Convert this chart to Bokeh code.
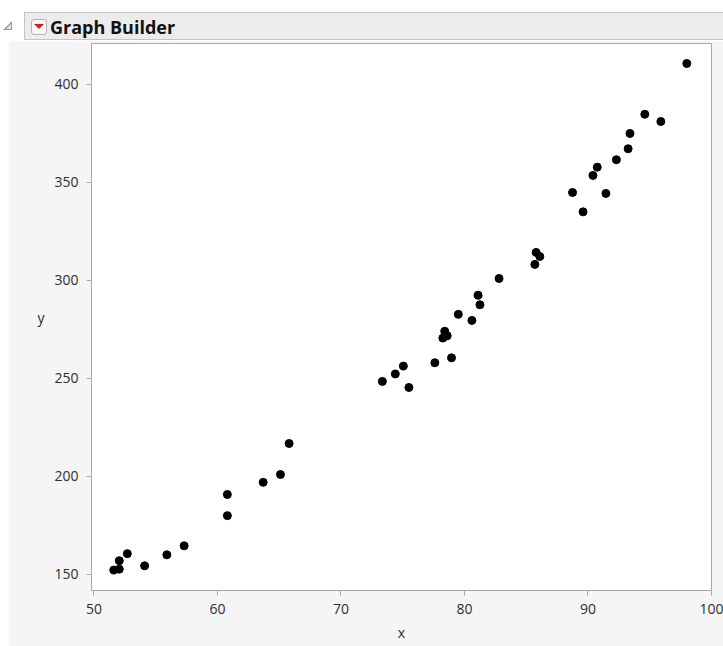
from bokeh.plotting import figure
from bokeh.models import FixedTicker, Range1d, ColumnDataSource, Div
from bokeh.layouts import column
from bokeh.embed import file_html
from bokeh.resources import INLINE

# Data
x_values = [51.6, 52.05, 52.05, 52.7, 54.1, 55.9, 57.3,
            60.8, 60.8, 63.7, 65.1, 65.8,
            73.35, 74.4, 75.05, 75.5, 77.6, 78.25, 78.6, 78.4, 78.95, 79.5,
            80.6, 81.1, 81.25, 82.8, 85.7, 85.8, 86.1,
            88.75, 89.6, 90.4, 90.75, 91.45, 92.3, 93.25, 93.4, 94.6, 95.9, 98.0]
y_values = [152.2, 152.7, 157.0, 160.6, 154.4, 160.0, 164.6,
            180.0, 190.8, 197.0, 201.0, 216.8,
            248.5, 252.3, 256.3, 245.4, 258.0, 270.6, 271.8, 274.1, 260.5, 282.7,
            279.6, 292.5, 287.6, 301.0, 308.2, 314.3, 312.2,
            344.9, 335.0, 353.6, 357.8, 344.4, 361.6, 367.2, 375.0, 384.8, 381.1, 410.7]
x_ticks = [50, 60, 70, 80, 90, 100]
y_ticks = [150, 200, 250, 300, 350, 400]
x_label = "x"
y_label = "y"
header_text = "Graph Builder"

FONT = "Open Sans"

header_html = f"""
<div style="position:relative;width:723px;height:40px;background:#ffffff;overflow:hidden;">
  <div style="position:absolute;left:3px;top:21px;width:0;height:0;border-left:9px solid transparent;border-bottom:9px solid #9a9a9a;"></div>
  <div style="position:absolute;left:6px;top:24px;width:0;height:0;border-left:5px solid transparent;border-bottom:5px solid #e4e4e4;"></div>
  <div style="position:absolute;left:24px;top:12px;width:700px;height:28px;background:#ececec;border:1px solid #c4c4c4;box-sizing:border-box;"></div>
  <div style="position:absolute;left:31px;top:19px;width:16px;height:16px;background:#f7f7f7;border:1px solid #b4b4b4;border-radius:3px;box-sizing:border-box;"></div>
  <div style="position:absolute;left:34px;top:24px;width:0;height:0;border-left:5px solid transparent;border-right:5px solid transparent;border-top:5px solid #d41f1f;"></div>
  <div style="position:absolute;left:50px;top:15px;height:24px;line-height:24px;font-family:'Open Sans';font-weight:bold;font-size:18px;color:#111111;white-space:nowrap;">{header_text}</div>
</div>
"""
header = Div(text=header_html, width=723, height=40, margin=(0, 0, 0, 0),
             styles={"padding": "0", "margin": "0"})

p = figure(width=715, height=606, output_backend="svg", toolbar_location=None,
           x_range=Range1d(49.8, 100.0), y_range=Range1d(141.8, 420.9),
           min_border_left=83, min_border_right=12, min_border_top=3, min_border_bottom=56,
           title=None, margin=(0, 0, 0, 8))

p.background_fill_color = "white"
p.border_fill_color = "#f5f5f5"
p.outline_line_color = "#a8a8a8"
p.outline_line_width = 1
p.grid.visible = False

for ax in (p.xaxis, p.yaxis):
    ax.axis_line_color = "#a8a8a8"
    ax.major_tick_line_color = "#a8a8a8"
    ax.major_tick_out = 5
    ax.major_tick_in = 0
    ax.minor_tick_line_color = None
    ax.major_label_text_font = FONT
    ax.major_label_text_font_size = "14px"
    ax.major_label_text_color = "#2e2e2e"
    ax.axis_label_text_font = FONT
    ax.axis_label_text_font_size = "14px"
    ax.axis_label_text_font_style = "normal"
    ax.axis_label_text_color = "#2e2e2e"

p.xaxis.ticker = FixedTicker(ticks=x_ticks)
p.yaxis.ticker = FixedTicker(ticks=y_ticks)
p.xaxis.axis_label = x_label
p.yaxis.axis_label = y_label
p.yaxis.axis_label_orientation = "horizontal"
p.xaxis.major_label_standoff = 8
p.yaxis.major_label_standoff = 8
p.xaxis.axis_label_standoff = 6
p.yaxis.axis_label_standoff = 7

src = ColumnDataSource(dict(x=x_values, y=y_values))
p.scatter("x", "y", source=src, size=8, marker="circle", fill_color="black", line_color="black")

layout = column(header, p, spacing=0, margin=(0, 0, 0, 0), styles={"background": "#ffffff"})

open("out.html", "w").write(file_html(layout, INLINE))
